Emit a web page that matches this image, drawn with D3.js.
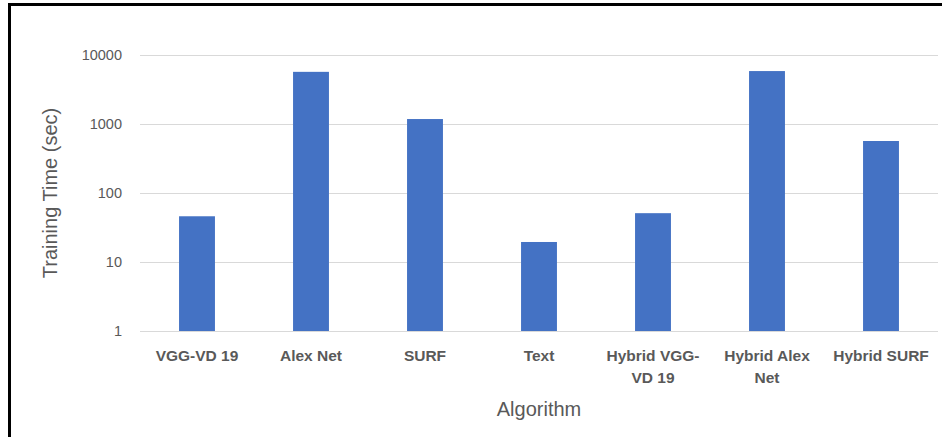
<!DOCTYPE html>
<html>
<head>
<meta charset="utf-8">
<script src="https://cdn.jsdelivr.net/npm/d3@7"></script>
<style>
  html, body { margin: 0; padding: 0; background: #fff; }
  svg { display: block; }
</style>
</head>
<body>
<svg id="chart" width="942" height="437"></svg>
<script>
// Training time per algorithm (seconds), plotted on a log axis
const categories = ["VGG-VD 19", "Alex Net", "SURF", "Text", "Hybrid VGG-VD 19", "Hybrid Alex Net", "Hybrid SURF"];
const trainingTime = [46, 5700, 1180, 19.5, 51, 5850, 567];
const tickValues = [1, 10, 100, 1000, 10000];
const xTitle = "Algorithm";
const yTitle = "Training Time (sec)";

const svg = d3.select("#chart");
const W = 942, H = 437;
const plot = { left: 140, right: 938, top: 55, bottom: 331 };
const textColor = "#595959";
const font = "'Liberation Sans', Arial, sans-serif";

// outer frame (only top and left edges fall inside the view)
svg.append("rect")
  .attr("x", 9.5).attr("y", 4.5)
  .attr("width", W + 20).attr("height", H + 20)
  .attr("fill", "none").attr("stroke", "#000").attr("stroke-width", 3);

const x = d3.scaleBand()
  .domain(categories)
  .range([plot.left, plot.right])
  .paddingInner(0.685)
  .paddingOuter(0.3425);

const y = d3.scaleLog()
  .domain([1, 10000])
  .range([plot.bottom, plot.top]);

// horizontal gridlines + tick labels
const yAxis = d3.axisLeft(y)
  .tickValues(tickValues)
  .tickFormat(d3.format("d"))
  .tickSize(-(plot.right - plot.left))
  .tickPadding(18);

const gy = svg.append("g")
  .attr("transform", `translate(${plot.left},0)`)
  .call(yAxis);
gy.select(".domain").remove();
gy.selectAll(".tick line")
  .attr("stroke", "#d9d9d9")
  .attr("stroke-width", 1);
gy.selectAll(".tick text")
  .attr("fill", textColor)
  .style("font-family", font)
  .style("font-size", "14.5px");

// bars
svg.append("g")
  .selectAll("rect")
  .data(categories)
  .join("rect")
  .attr("x", d => x(d))
  .attr("width", x.bandwidth())
  .attr("y", (d, i) => y(trainingTime[i]))
  .attr("height", (d, i) => y(1) - y(trainingTime[i]))
  .attr("fill", "#4472C4");

// category labels, wrapped to the band width
const maxLabelWidth = 110;
const labelG = svg.append("g");
categories.forEach(name => {
  const tokens = name.match(/[^\s-]+-?\s?/g);
  const t = labelG.append("text")
    .attr("x", x(name) + x.bandwidth() / 2)
    .attr("y", 361)
    .attr("text-anchor", "middle")
    .attr("fill", textColor)
    .style("font-family", font)
    .style("font-weight", "bold")
    .style("font-size", "15.5px");
  let lines = [];
  let current = "";
  const probe = t.append("tspan");
  tokens.forEach(tok => {
    const trial = current + tok;
    probe.text(trial.trim());
    if (current && probe.node().getComputedTextLength() > maxLabelWidth) {
      lines.push(current.trim());
      current = tok;
    } else {
      current = trial;
    }
  });
  lines.push(current.trim());
  probe.remove();
  lines.forEach((ln, i) => {
    t.append("tspan")
      .attr("x", x(name) + x.bandwidth() / 2)
      .attr("dy", i === 0 ? 0 : 22)
      .text(ln);
  });
});

// axis titles
svg.append("text")
  .attr("x", (plot.left + plot.right) / 2 - 0)
  .attr("y", 416)
  .attr("text-anchor", "middle")
  .attr("fill", textColor)
  .style("font-family", font)
  .style("font-size", "20px")
  .text(xTitle);

svg.append("text")
  .attr("transform", `translate(57,${(plot.top + plot.bottom) / 2}) rotate(-90)`)
  .attr("text-anchor", "middle")
  .attr("fill", textColor)
  .style("font-family", font)
  .style("font-size", "20px")
  .text(yTitle);
</script>
</body>
</html>
